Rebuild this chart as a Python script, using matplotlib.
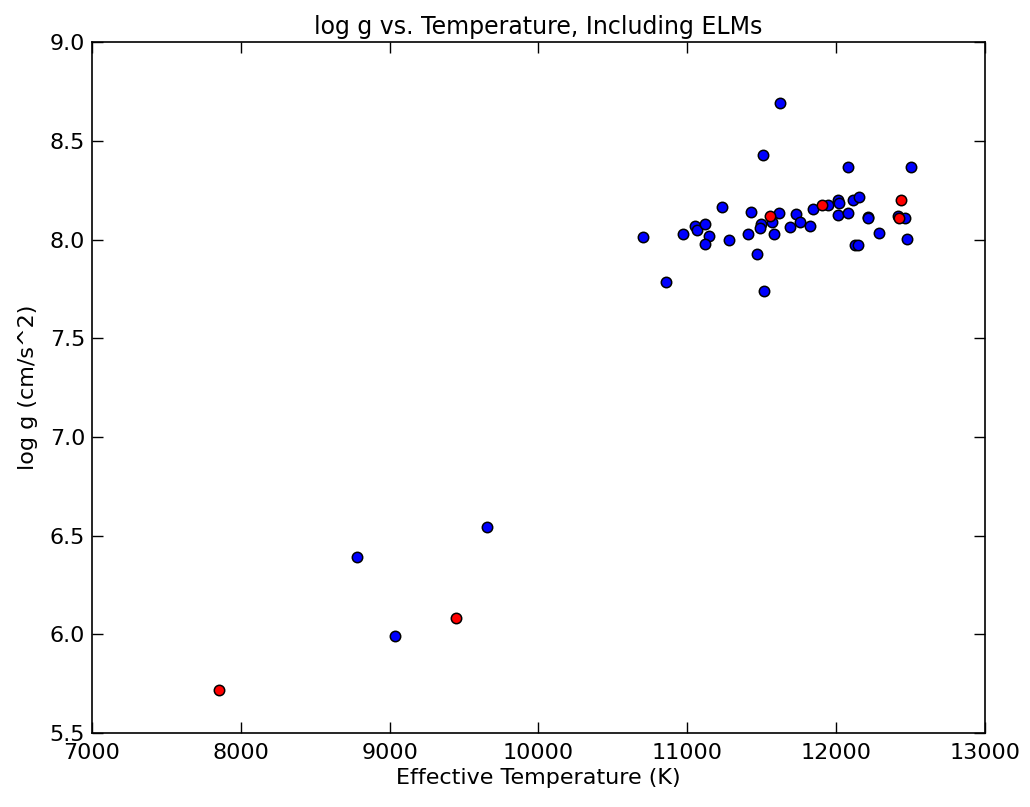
import matplotlib
matplotlib.use("Agg")
import matplotlib.pyplot as plt

# Non-ELM (blue) white dwarfs
blue_teff = [11622, 11506, 10700, 10973, 11052, 11063, 11119, 11148, 11119, 11235,
             11282, 10857, 11410, 11430, 11466, 11515, 11495, 11488, 11567, 11582,
             11616, 11690, 11728, 11757, 11824, 11842, 11948, 12010, 12019, 12010,
             12077, 12077, 12115, 12155, 12126, 12148, 12211, 12211, 12287, 12413,
             12464, 12474, 12503, 8781, 9036, 9654]
blue_logg = [8.69, 8.428, 8.012, 8.026, 8.070, 8.051, 8.077, 8.019, 7.980, 8.164,
             7.996, 7.784, 8.028, 8.142, 7.925, 7.740, 8.077, 8.060, 8.090, 8.026,
             8.135, 8.063, 8.129, 8.090, 8.070, 8.157, 8.173, 8.198, 8.186, 8.127,
             8.135, 8.368, 8.200, 8.216, 7.975, 7.975, 8.115, 8.107, 8.033, 8.120,
             8.107, 8.004, 8.368, 6.392, 5.991, 6.544]

# ELMs (red)
red_teff = [11556, 11903, 12433, 12424, 9446, 7853]
red_logg = [8.120, 8.173, 8.201, 8.107, 6.083, 5.718]

xticks = [7000, 8000, 9000, 10000, 11000, 12000, 13000]
yticks = [5.5, 6.0, 6.5, 7.0, 7.5, 8.0, 8.5, 9.0]

fig = plt.figure(figsize=(10.30, 8.07), dpi=100, facecolor="white")
ax = fig.add_axes([0.0893, 0.0917, 0.867, 0.856])

ax.scatter(blue_teff, blue_logg, s=56, c="#0000ff", edgecolors="black", linewidths=1.1, zorder=3)
ax.scatter(red_teff, red_logg, s=56, c="#ff0000", edgecolors="black", linewidths=1.1, zorder=3)

ax.set_xlim(7000, 13000)
ax.set_ylim(5.5, 9.0)
ax.set_xticks(xticks)
ax.set_yticks(yticks)
ax.set_yticklabels([f"{v:.1f}" for v in yticks])
ax.tick_params(axis="x", direction="in", top=True, length=8, width=1, labelsize=16, pad=7)
ax.tick_params(axis="y", direction="in", right=True, length=8, width=1, labelsize=16, pad=5)
for sp in ax.spines.values():
    sp.set_linewidth(1.2)

ax.set_title("log g vs. Temperature, Including ELMs", fontsize=17)
ax.set_xlabel("Effective Temperature (K)", fontsize=16)
ax.set_ylabel("log g (cm/s^2)", fontsize=16, labelpad=8)

fig.savefig("out.png", dpi=100, facecolor="white")
